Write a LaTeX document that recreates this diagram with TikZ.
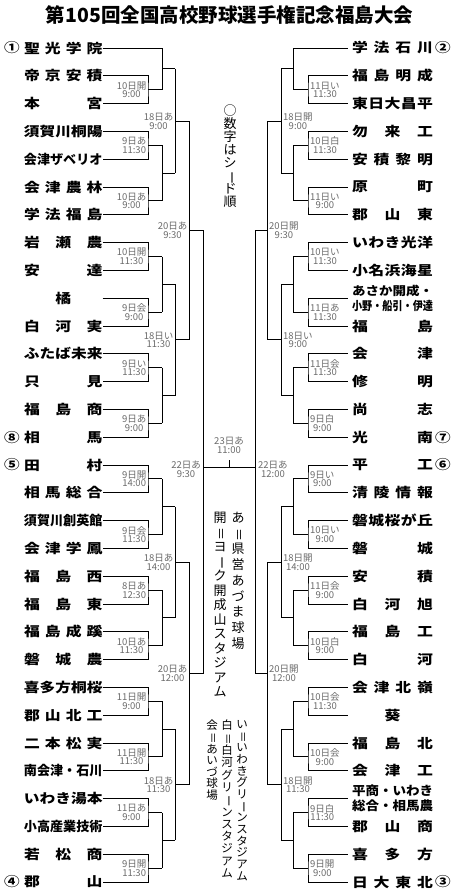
\documentclass[tikz,border=0pt]{standalone}
\usepackage{fontspec}
\usepackage{graphicx}
\newfontfamily\jpn[FakeStretch=1.2]{Noto Sans CJK JP}
\newfontfamily\jpr{Noto Sans CJK JP}
\def\spr#1{\sprA#1\relax}
\def\sprA#1#2{#1\ifx\relax#2\else\hfill\expandafter\sprA\expandafter#2\fi}
\newcommand\tfit[2]{\setbox0\hbox{#2}\ifdim\wd0>#1\relax\resizebox{#1}{\height}{#2}\else\makebox[#1][s]{\spr{#2}}\fi}
\newcommand\tnl[1]{\tfit{78.5pt}{#1}}
\newcommand\tnr[1]{\tfit{81pt}{#1}}
\newcommand\tnlone[1]{\makebox[78.5pt][c]{#1}}
\newcommand\tnrone[1]{\makebox[81pt][c]{#1}}
\newcommand\vrot[1]{\rotatebox[origin=c]{-90}{#1}}
\newcommand\nolsk{\lineskiplimit=-20pt\relax}
\tikzset{
  team/.style={inner sep=0pt, font=\jpn\bfseries\fontsize{13.2pt}{15pt}\selectfont},
  twoline/.style={inner sep=0pt, align=left, font=\jpn\bfseries\fontsize{12pt}{15pt}\selectfont},
  seedmark/.style={inner sep=0pt, font=\jpn\bfseries\fontsize{13pt}{15pt}\selectfont},
  lab/.style={inner sep=0pt, align=center, font=\jpr\fontsize{9.5pt}{8.6pt}\selectfont, text=black!58},
  vlg/.style={inner sep=0pt, align=center, anchor=north},
  ln/.style={line width=1pt},
}
\begin{document}
\begin{tikzpicture}[x=1pt,y=-1pt]
\fill[white] (0,0) rectangle (461,894);
\useasboundingbox (0,0) rectangle (461,894);
\node[inner sep=0pt, font=\jpr\bfseries\fontsize{19.5pt}{22pt}\selectfont] (title) at (229.5,15) {第105回全国高校野球選手権記念福島大会};
% ---------------- left teams
\foreach \i/\t in {0/\tnl{聖光学院},1/\tnl{帝京安積},2/\tnl{本宮},3/\tnl{須賀川桐陽},4/\tnl{会津ザベリオ},5/\tnl{会津農林},6/\tnl{学法福島},7/\tnl{岩瀬農},8/\tnl{安達},9/\tnlone{橘},10/\tnl{白河実},11/\tnl{ふたば未来},12/\tnl{只見},13/\tnl{福島商},14/\tnl{相馬},15/\tnl{田村},16/\tnl{相馬総合},17/\tnl{須賀川創英館},18/\tnl{会津学鳳},19/\tnl{福島西},20/\tnl{福島東},21/\tnl{福島成蹊},22/\tnl{磐城農},23/\tnl{喜多方桐桜},24/\tnl{郡山北工},25/\tnl{二本松実},26/\tnl{南会津・石川},27/\tnl{いわき湯本},28/\tnl{小高産業技術},29/\tnl{若松商},30/\tnl{郡山}}
  \node[team] (L\i) at (63.25,{48+27.8*\i}) {\t};
% ---------------- right teams
\foreach \i/\t in {0/\tnr{学法石川},1/\tnr{福島明成},2/\tnr{東日大昌平},3/\tnr{勿来工},4/\tnr{安積黎明},5/\tnr{原町},6/\tnr{郡山東},7/\tnr{いわき光洋},8/\tnr{小名浜海星},10/\tnr{福島},11/\tnr{会津},12/\tnr{修明},13/\tnr{尚志},14/\tnr{光南},15/\tnr{平工},16/\tnr{清陵情報},17/\tnr{磐城桜が丘},18/\tnr{磐城},19/\tnr{安積},20/\tnr{白河旭},21/\tnr{福島工},22/\tnr{白河},23/\tnr{会津北嶺},24/\tnrone{葵},25/\tnr{福島北},26/\tnr{会津工},28/\tnr{郡山商},29/\tnr{喜多方},30/\tnr{日大東北}}
  \node[team] (R\i) at (392.5,{48+27.8*\i}) {\t};
\node[twoline] (R9) at (392.5,{48+27.8*9}) {\tnr{あさか開成・}\\\tnr{小野・船引・伊達}};
\node[twoline, font=\jpn\bfseries\fontsize{12.5pt}{15pt}\selectfont] (R27) at (392.5,{48+27.8*27}) {\tnr{平商・いわき}\\\tnr{総合・相馬農}};
% ---------------- seeds
\node[seedmark] (s1) at (12,48) {①};
\node[seedmark] (s8) at (12,{48+27.8*14}) {⑧};
\node[seedmark] (s5) at (12,{48+27.8*15}) {⑤};
\node[seedmark] (s4) at (12,{48+27.8*30}) {④};
\node[seedmark] (s2) at (443,48) {②};
\node[seedmark] (s7) at (443,{48+27.8*14}) {⑦};
\node[seedmark] (s6) at (443,{48+27.8*15}) {⑥};
\node[seedmark] (s3) at (443,{48+27.8*30}) {③};
% ---------------- first-level pairs
\foreach \k in {0,...,14}{
  \pgfmathtruncatemacro\a{2*\k+1}
  \pgfmathtruncatemacro\b{2*\k+2}
  \pgfmathsetmacro\ym{48+27.8*(2*\k+1.5)}
  \coordinate (lp\k) at (148,\ym);
  \coordinate (rp\k) at (308,\ym);
  \draw[ln] (L\a.east) -| (lp\k) |- (L\b.east);
  \draw[ln] (lp\k) -- (162,\ym);
  \draw[ln] ([xshift=-4pt]R\a.west) -| (rp\k) |- ([xshift=-4pt]R\b.west);
  \draw[ln] (rp\k) -- (293,\ym);
}
% ---------------- second level
\draw[ln] (L0.east) -- (162,48) -- (162,89.7);
\draw[ln] (162,68.85) -- (175,68.85);
\draw[ln] ([xshift=-4pt]R0.west) -- (293,48) -- (293,89.7);
\draw[ln] (293,68.85) -- (281,68.85);
\foreach \g in {1,...,7}{
  \pgfmathsetmacro\yt{48+27.8*(4*\g-0.5)}
  \pgfmathsetmacro\yb{48+27.8*(4*\g+1.5)}
  \pgfmathsetmacro\ym{48+27.8*(4*\g+0.5)}
  \draw[ln] (162,\yt) -- (162,\yb);
  \draw[ln] (162,\ym) -- (175,\ym);
  \draw[ln] (293,\yt) -- (293,\yb);
  \draw[ln] (293,\ym) -- (281,\ym);
}
% ---------------- third level
\foreach \yt/\yb/\ym in {68.85/173.1/121.0, 284.3/395.5/339.9, 506.7/617.9/562.3, 729.1/840.3/784.7}{
  \draw[ln] (175,\yt) -- (175,\yb);
  \draw[ln] (175,\ym) -- (189,\ym);
  \draw[ln] (281,\yt) -- (281,\yb);
  \draw[ln] (281,\ym) -- (267,\ym);
}
% ---------------- fourth level
\foreach \yt/\yb/\ym in {121.0/339.9/230.4, 562.3/784.7/673.5}{
  \draw[ln] (189,\yt) -- (189,\yb);
  \draw[ln] (189,\ym) -- (203,\ym);
  \draw[ln] (267,\yt) -- (267,\yb);
  \draw[ln] (267,\ym) -- (255,\ym);
}
% ---------------- fifth level and final
\coordinate (lf) at (203,467);
\coordinate (rf) at (255,467);
\coordinate (ft) at (229,467);
\coordinate (ftop) at (229,460);
\draw[ln] (203,230.4) -- (203,673.5);
\draw[ln] (255,230.4) -- (255,673.5);
\draw[ln] (lf) -- (rf);
\draw[ln] (ft) -- (ftop);
% ---------------- labels, left
\foreach \k/\a/\b in {0/10日開/9:00,1/9日あ/11:30,2/10日あ/9:00,3/10日開/11:30,4/9日会/9:00,5/9日い/11:30,6/9日あ/9:00,7/9日開/14:00,8/9日会/11:30,9/8日あ/12:30,10/10日あ/11:30,11/11日開/9:00,12/11日開/11:30,13/11日あ/9:00,14/9日開/11:30}
  \node[lab, anchor=east] (ll\k) at (146.5,{48+27.8*(2*\k+1.5)}) {\a\\\b};
\foreach \k/\y/\a/\b in {0/121.0/18日あ/9:00,1/339.9/18日い/11:30,2/562.3/18日あ/14:00,3/784.7/18日あ/11:30}
  \node[lab, anchor=east] (lm\k) at (173.5,\y) {\a\\\b};
\node[lab, anchor=east] (ln0) at (187.5,230.4) {20日あ\\9:30};
\node[lab, anchor=east] (ln1) at (187.5,673.5) {20日あ\\12:00};
\node[lab, anchor=east] (lo0) at (201,469) {22日あ\\9:30};
% ---------------- labels, right
\foreach \k/\a/\b in {0/11日い/11:30,1/10日白/11:30,2/11日い/9:00,3/10日い/11:30,4/11日あ/11:30,5/11日会/11:30,6/9日白/9:00,7/9日い/9:00,8/10日い/9:00,9/11日会/9:00,10/10日白/9:00,11/10日会/11:30,12/10日会/9:00,13/9日白/11:30,14/9日開/9:00}
  \node[lab, anchor=west] (rl\k) at (310,{48+27.8*(2*\k+1.5)}) {\a\\\b};
\foreach \k/\y/\a/\b in {0/121.0/18日開/9:00,1/339.9/18日い/9:00,2/562.3/18日開/14:00,3/784.7/18日開/11:30}
  \node[lab, anchor=west] (rm\k) at (283,\y) {\a\\\b};
\node[lab, anchor=west] (rn0) at (269,230.4) {20日開\\9:30};
\node[lab, anchor=west] (rn1) at (269,673.5) {20日開\\12:00};
\node[lab, anchor=west] (ro0) at (258,469) {22日あ\\12:00};
\node[lab] (fin) at (229,445) {23日あ\\11:00};
% ---------------- vertical notes
\node[vlg, font=\jpr\fontsize{13pt}{12.9pt}\selectfont\nolsk] (seednote) at (230,105) {○\\数\\字\\は\\シ\\\vrot{ー}\\ド\\順};
\node[vlg, font=\jpr\fontsize{13pt}{15.7pt}\selectfont\nolsk] (leg1) at (238,512) {あ\\\vrot{＝}\\県\\営\\あ\\づ\\ま\\球\\場};
\node[vlg, font=\jpr\fontsize{13pt}{14.5pt}\selectfont\nolsk] (leg2) at (220,512) {開\\\vrot{＝}\\ヨ\\\vrot{ー}\\ク\\開\\成\\山\\ス\\タ\\ジ\\ア\\ム};
\node[vlg, font=\jpr\fontsize{11.5pt}{11.7pt}\selectfont\nolsk] (leg3) at (242,720) {い\\\vrot{＝}\\い\\わ\\き\\グ\\リ\\\vrot{ー}\\ン\\ス\\タ\\ジ\\ア\\ム};
\node[vlg, font=\jpr\fontsize{11.5pt}{12.3pt}\selectfont\nolsk] (leg4) at (227,720) {白\\\vrot{＝}\\白\\河\\グ\\リ\\\vrot{ー}\\ン\\ス\\タ\\ジ\\ア\\ム};
\node[vlg, font=\jpr\fontsize{11.5pt}{11.6pt}\selectfont\nolsk] (leg5) at (212,720) {会\\\vrot{＝}\\あ\\い\\づ\\球\\場};
\end{tikzpicture}
\end{document}
